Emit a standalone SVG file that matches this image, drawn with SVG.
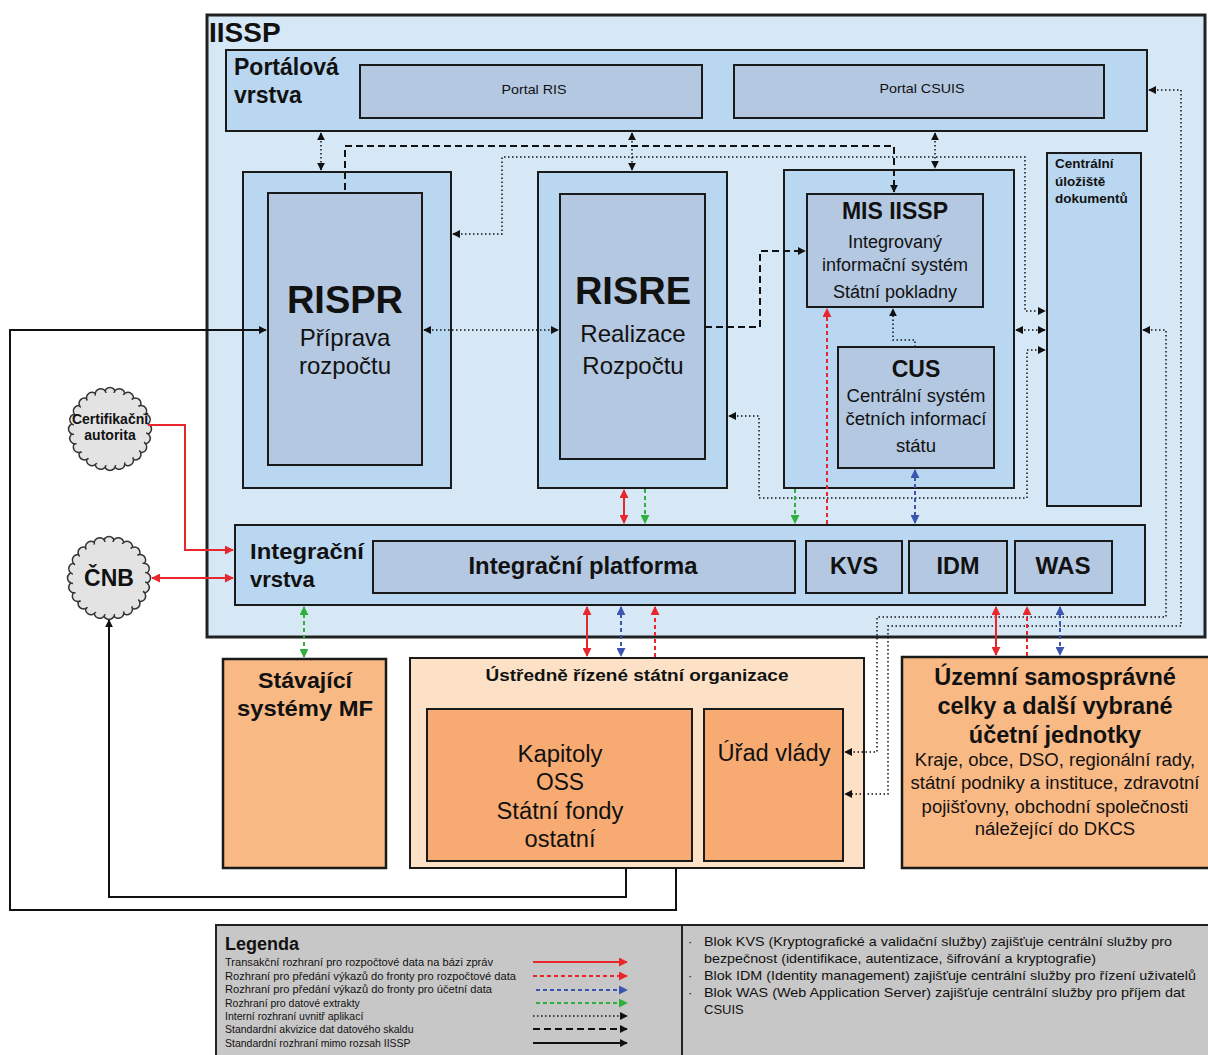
<svg xmlns="http://www.w3.org/2000/svg" width="1208" height="1055" viewBox="0 0 1208 1055">
<style>
text{font-family:"Liberation Sans",Arial,sans-serif;fill:#111}
.b{font-weight:bold}
.c{text-anchor:middle}
.frame{fill:#d6e7f5;stroke:#222;stroke-width:3}
.lay{fill:#b9d7f0;stroke:#1a1a1a;stroke-width:2}
.inn{fill:#b4c8e1;stroke:#1a1a1a;stroke-width:2}
.or1{fill:#f9b985;stroke:#1a1a1a;stroke-width:2.5}
.or2{fill:#fce1c6;stroke:#1a1a1a;stroke-width:2}
.or3{fill:#f7ab72;stroke:#1a1a1a;stroke-width:2}
.leg{fill:#c8c7c7;stroke:#222;stroke-width:2}
.cl{fill:#e3e3e3;stroke:#333;stroke-width:1.5}
.cf{fill:#e3e3e3}
.ln{fill:none}
.dot{stroke:#111;stroke-width:1.5;stroke-dasharray:1.5 2.5}
.dash{stroke:#111;stroke-width:2;stroke-dasharray:7 4}
.solid{stroke:#111;stroke-width:2}
.rs{stroke:#e8262b;stroke-width:2}
.rd{stroke:#e8262b;stroke-width:2;stroke-dasharray:4 3}
.bd{stroke:#3b55b0;stroke-width:2;stroke-dasharray:4 3}
.gd{stroke:#2fb03c;stroke-width:2;stroke-dasharray:4 3}
</style>
<defs>
<marker id="ak" viewBox="0 0 10 10" refX="9" refY="5" markerWidth="8" markerHeight="8" markerUnits="userSpaceOnUse" orient="auto-start-reverse"><path d="M0,0L10,5L0,10z" fill="#111"/></marker>
<marker id="ar" viewBox="0 0 10 10" refX="9" refY="5" markerWidth="9" markerHeight="9" markerUnits="userSpaceOnUse" orient="auto-start-reverse"><path d="M0,0L10,5L0,10z" fill="#e8262b"/></marker>
<marker id="ab" viewBox="0 0 10 10" refX="9" refY="5" markerWidth="9" markerHeight="9" markerUnits="userSpaceOnUse" orient="auto-start-reverse"><path d="M0,0L10,5L0,10z" fill="#3b55b0"/></marker>
<marker id="ag" viewBox="0 0 10 10" refX="9" refY="5" markerWidth="9" markerHeight="9" markerUnits="userSpaceOnUse" orient="auto-start-reverse"><path d="M0,0L10,5L0,10z" fill="#2fb03c"/></marker>
<g id="cloud">
<g class="cl">
<circle cx="0" cy="-36" r="5.5"/>
<circle cx="0" cy="-36" r="5.5" transform="rotate(15)"/>
<circle cx="0" cy="-36" r="5.5" transform="rotate(30)"/>
<circle cx="0" cy="-36" r="5.5" transform="rotate(45)"/>
<circle cx="0" cy="-36" r="5.5" transform="rotate(60)"/>
<circle cx="0" cy="-36" r="5.5" transform="rotate(75)"/>
<circle cx="0" cy="-36" r="5.5" transform="rotate(90)"/>
<circle cx="0" cy="-36" r="5.5" transform="rotate(105)"/>
<circle cx="0" cy="-36" r="5.5" transform="rotate(120)"/>
<circle cx="0" cy="-36" r="5.5" transform="rotate(135)"/>
<circle cx="0" cy="-36" r="5.5" transform="rotate(150)"/>
<circle cx="0" cy="-36" r="5.5" transform="rotate(165)"/>
<circle cx="0" cy="-36" r="5.5" transform="rotate(180)"/>
<circle cx="0" cy="-36" r="5.5" transform="rotate(195)"/>
<circle cx="0" cy="-36" r="5.5" transform="rotate(210)"/>
<circle cx="0" cy="-36" r="5.5" transform="rotate(225)"/>
<circle cx="0" cy="-36" r="5.5" transform="rotate(240)"/>
<circle cx="0" cy="-36" r="5.5" transform="rotate(255)"/>
<circle cx="0" cy="-36" r="5.5" transform="rotate(270)"/>
<circle cx="0" cy="-36" r="5.5" transform="rotate(285)"/>
<circle cx="0" cy="-36" r="5.5" transform="rotate(300)"/>
<circle cx="0" cy="-36" r="5.5" transform="rotate(315)"/>
<circle cx="0" cy="-36" r="5.5" transform="rotate(330)"/>
<circle cx="0" cy="-36" r="5.5" transform="rotate(345)"/>
</g>
<circle class="cf" cx="0" cy="0" r="36.5"/>
</g>
</defs>

<g id="iissp">
<rect class="frame" x="207" y="15" width="998" height="622"/>
<text class="b" x="209" y="42" font-size="28">IISSP</text>
</g>

<g id="portalova-vrstva">
<rect class="lay" x="226" y="50" width="921" height="81"/>
<text class="b" x="234" y="75" font-size="23">Portálová</text>
<text class="b" x="234" y="103" font-size="23">vrstva</text>
</g>
<g id="portal-ris">
<rect class="inn" x="360" y="65" width="342" height="53"/>
<text class="c" x="534" y="94" font-size="13" textLength="65" lengthAdjust="spacingAndGlyphs">Portal RIS</text>
</g>
<g id="portal-csuis">
<rect class="inn" x="734" y="65" width="370" height="53"/>
<text class="c" x="922" y="93" font-size="13" textLength="85" lengthAdjust="spacingAndGlyphs">Portal CSUIS</text>
</g>

<g id="rispr">
<rect class="lay" x="243" y="172" width="208" height="316"/>
<rect class="inn" x="268" y="193" width="154" height="272"/>
<text class="b c" x="345" y="313" font-size="38">RISPR</text>
<text class="c" x="345" y="346" font-size="24">Příprava</text>
<text class="c" x="345" y="374" font-size="24">rozpočtu</text>
</g>

<g id="risre">
<rect class="lay" x="538" y="172" width="189" height="316"/>
<rect class="inn" x="560" y="194" width="145" height="265"/>
<text class="b c" x="633" y="304" font-size="38">RISRE</text>
<text class="c" x="633" y="342" font-size="24">Realizace</text>
<text class="c" x="633" y="374" font-size="24">Rozpočtu</text>
</g>

<g id="mis-container">
<rect class="lay" x="784" y="170" width="230" height="318"/>
</g>
<g id="mis-iissp">
<rect class="inn" x="807" y="194" width="176" height="113"/>
<text class="b c" x="895" y="219" font-size="23">MIS IISSP</text>
<text class="c" x="895" y="248" font-size="18">Integrovaný</text>
<text class="c" x="895" y="271" font-size="18">informační systém</text>
<text class="c" x="895" y="298" font-size="18">Státní pokladny</text>
</g>
<g id="cus">
<rect class="inn" x="838" y="347" width="156" height="121"/>
<text class="b c" x="916" y="377" font-size="23">CUS</text>
<text class="c" x="916" y="402" font-size="18.5">Centrální systém</text>
<text class="c" x="916" y="425" font-size="18.5">četních informací</text>
<text class="c" x="916" y="452" font-size="18.5">státu</text>
</g>

<g id="centralni-uloziste">
<rect class="lay" x="1047" y="153" width="94" height="353"/>
<text class="b" x="1055" y="168" font-size="13.5">Centrální</text>
<text class="b" x="1055" y="186" font-size="13.5">úložiště</text>
<text class="b" x="1055" y="203" font-size="13.5">dokumentů</text>
</g>

<g id="integracni-vrstva">
<rect class="lay" x="235" y="525" width="910" height="80"/>
<text class="b" x="250" y="559" font-size="22" textLength="114" lengthAdjust="spacingAndGlyphs">Integrační</text>
<text class="b" x="250" y="587" font-size="22">vrstva</text>
</g>
<g id="integracni-platforma">
<rect class="inn" x="373" y="541" width="422" height="52"/>
<text class="b c" x="583" y="574" font-size="23" textLength="229" lengthAdjust="spacingAndGlyphs">Integrační platforma</text>
</g>
<g id="kvs">
<rect class="inn" x="806" y="541" width="96" height="52"/>
<text class="b c" x="854" y="574" font-size="23" textLength="48" lengthAdjust="spacingAndGlyphs">KVS</text>
</g>
<g id="idm">
<rect class="inn" x="909" y="541" width="98" height="52"/>
<text class="b c" x="958" y="574" font-size="23" textLength="43" lengthAdjust="spacingAndGlyphs">IDM</text>
</g>
<g id="was">
<rect class="inn" x="1015" y="541" width="97" height="52"/>
<text class="b c" x="1063" y="574" font-size="23" textLength="55" lengthAdjust="spacingAndGlyphs">WAS</text>
</g>

<g id="certifikacni-autorita">
<use href="#cloud" x="110" y="429"/>
<text class="b c" x="110" y="424" font-size="14">Certifikační</text>
<text class="b c" x="110" y="440" font-size="14">autorita</text>
</g>
<g id="cnb">
<use href="#cloud" x="109" y="578"/>
<text class="b c" x="109" y="586" font-size="23">ČNB</text>
</g>

<g id="stavajici-systemy-mf">
<rect class="or1" x="223" y="659" width="163" height="209"/>
<text class="b c" x="305" y="688" font-size="22" textLength="94" lengthAdjust="spacingAndGlyphs">Stávající</text>
<text class="b c" x="305" y="716" font-size="22" textLength="136" lengthAdjust="spacingAndGlyphs">systémy MF</text>
</g>

<g id="ustredne-rizene">
<rect class="or2" x="410" y="658" width="454" height="210"/>
<text class="b c" x="637" y="681" font-size="17" textLength="303" lengthAdjust="spacingAndGlyphs">Ústředně řízené státní organizace</text>
</g>
<g id="kapitoly">
<rect class="or3" x="427" y="709" width="265" height="152"/>
<text class="c" x="560" y="762" font-size="23" textLength="85" lengthAdjust="spacingAndGlyphs">Kapitoly</text>
<text class="c" x="560" y="790" font-size="23" textLength="48" lengthAdjust="spacingAndGlyphs">OSS</text>
<text class="c" x="560" y="819" font-size="23" textLength="127" lengthAdjust="spacingAndGlyphs">Státní fondy</text>
<text class="c" x="560" y="847" font-size="23" textLength="71" lengthAdjust="spacingAndGlyphs">ostatní</text>
</g>
<g id="urad-vlady">
<rect class="or3" x="704" y="709" width="139" height="152"/>
<text class="c" x="774" y="761" font-size="23" textLength="113" lengthAdjust="spacingAndGlyphs">Úřad vlády</text>
</g>

<g id="uzemni-samospravne-celky">
<rect class="or1" x="902" y="657" width="312" height="211"/>
<text class="b c" x="1055" y="685" font-size="23.5">Územní samosprávné</text>
<text class="b c" x="1055" y="714" font-size="23.5">celky a další vybrané</text>
<text class="b c" x="1055" y="743" font-size="23.5">účetní jednotky</text>
<text class="c" x="1055" y="766" font-size="18.5">Kraje, obce, DSO, regionální rady,</text>
<text class="c" x="1055" y="789" font-size="18.5">státní podniky a instituce, zdravotní</text>
<text class="c" x="1055" y="813" font-size="18.5">pojišťovny, obchodní společnosti</text>
<text class="c" x="1055" y="835" font-size="18.5">náležející do DKCS</text>
</g>

<g id="connectors" class="ln">
<path class="dot" d="M321,133V170" marker-start="url(#ak)" marker-end="url(#ak)"/>
<path class="dot" d="M632,133V170" marker-start="url(#ak)" marker-end="url(#ak)"/>
<path class="dot" d="M935,133V168" marker-start="url(#ak)" marker-end="url(#ak)"/>
<path class="dash" d="M345,190V146H894V192" marker-end="url(#ak)"/>
<path class="dot" d="M453,234H502V157H1025V311H1045" marker-start="url(#ak)" marker-end="url(#ak)"/>
<path class="dot" d="M424,330H558" marker-start="url(#ak)" marker-end="url(#ak)"/>
<path class="dash" d="M705,327H760V251H805" marker-end="url(#ak)"/>
<path class="dot" d="M915,347V340H893V309" marker-end="url(#ak)"/>
<path class="dot" d="M1016,330H1045" marker-start="url(#ak)" marker-end="url(#ak)"/>
<path class="dot" d="M729,416H759V498H1027V350H1045" marker-start="url(#ak)" marker-end="url(#ak)"/>
<path class="dot" d="M1143,330H1166V617H877V752H845" marker-start="url(#ak)" marker-end="url(#ak)"/>
<path class="dot" d="M1149,90H1181V626H888V794H845" marker-start="url(#ak)" marker-end="url(#ak)"/>

<path class="rs" d="M624,490V523" marker-start="url(#ar)" marker-end="url(#ar)"/>
<path class="gd" d="M645,489V523" marker-end="url(#ag)"/>
<path class="gd" d="M795,489V523" marker-end="url(#ag)"/>
<path class="rd" d="M827,524V309" marker-end="url(#ar)"/>
<path class="bd" d="M915,470V523" marker-start="url(#ab)" marker-end="url(#ab)"/>

<path class="gd" d="M304,607V657" marker-start="url(#ag)" marker-end="url(#ag)"/>
<path class="rs" d="M587,607V656" marker-start="url(#ar)" marker-end="url(#ar)"/>
<path class="bd" d="M621,607V656" marker-start="url(#ab)" marker-end="url(#ab)"/>
<path class="rd" d="M655,657V607" marker-end="url(#ar)"/>
<path class="rs" d="M996,607V655" marker-start="url(#ar)" marker-end="url(#ar)"/>
<path class="rd" d="M1027,656V607" marker-end="url(#ar)"/>
<path class="bd" d="M1060,607V655" marker-start="url(#ab)" marker-end="url(#ab)"/>

<path class="rs" d="M148,425H185V550H233" marker-end="url(#ar)"/>
<path class="rs" d="M152,578H233" marker-start="url(#ar)" marker-end="url(#ar)"/>

<path class="solid" d="M626,868V897H109V620" marker-end="url(#ak)"/>
<path class="solid" d="M676,868V910H10V330H266" marker-end="url(#ak)"/>
</g>

<g id="legenda">
<rect class="leg" x="216" y="925" width="996" height="135"/>
<line x1="682" y1="925" x2="682" y2="1056" stroke="#222" stroke-width="2"/>
<text class="b" x="225" y="950" font-size="18">Legenda</text>
<g font-size="10.5">
<text x="225" y="966" textLength="268" lengthAdjust="spacingAndGlyphs">Transakční rozhraní pro rozpočtové data na bázi zpráv</text>
<text x="225" y="980" textLength="291" lengthAdjust="spacingAndGlyphs">Rozhraní pro předání výkazů do fronty pro rozpočtové data</text>
<text x="225" y="993" textLength="267" lengthAdjust="spacingAndGlyphs">Rozhraní pro předání výkazů do fronty pro účetní data</text>
<text x="225" y="1007">Rozhraní pro datové extrakty</text>
<text x="225" y="1020">Interní rozhraní uvnitř aplikací</text>
<text x="225" y="1033">Standardní akvizice dat datového skaldu</text>
<text x="225" y="1047">Standardní rozhraní mimo rozsah IISSP</text>
</g>
<g class="ln">
<path class="rs" d="M533,962H627" marker-end="url(#ar)"/>
<path class="rd" d="M533,976H627" marker-end="url(#ar)"/>
<path class="bd" d="M536,990H627" marker-end="url(#ab)"/>
<path class="gd" d="M536,1003H627" marker-end="url(#ag)"/>
<path class="dot" d="M533,1016H627" marker-end="url(#ak)"/>
<path class="dash" d="M533,1029H627" marker-end="url(#ak)"/>
<path class="solid" d="M533,1043H627" marker-end="url(#ak)"/>
</g>
<g font-size="13">
<text x="688" y="946">·</text>
<text x="688" y="980">·</text>
<text x="688" y="997">·</text>
<text x="704" y="946" textLength="468" lengthAdjust="spacingAndGlyphs">Blok KVS (Kryptografické a validační služby) zajišťuje centrální služby pro</text>
<text x="704" y="963" textLength="392" lengthAdjust="spacingAndGlyphs">bezpečnost (identifikace, autentizace, šifrování a kryptografie)</text>
<text x="704" y="980" textLength="492" lengthAdjust="spacingAndGlyphs">Blok IDM (Identity management) zajišťuje centrální služby pro řízení uživatelů</text>
<text x="704" y="997" textLength="481" lengthAdjust="spacingAndGlyphs">Blok WAS (Web Application Server) zajišťuje centrální služby pro příjem dat</text>
<text x="704" y="1014">CSUIS</text>
</g>
</g>
</svg>
